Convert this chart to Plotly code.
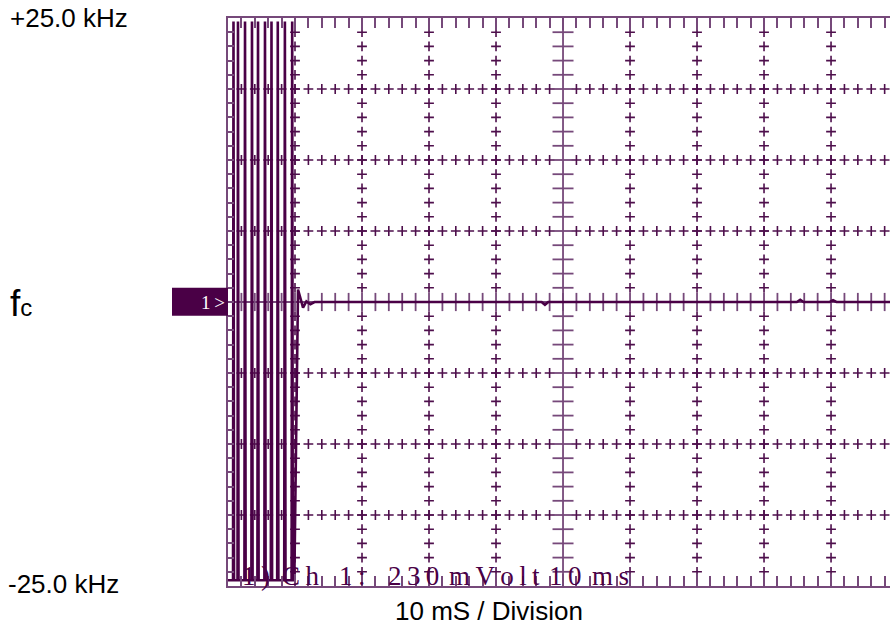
import numpy as np
import plotly.graph_objects as go

# ---- data (time in ms, frequency deviation in kHz) ----
burst_t = [0.0, 0.75, 0.82, 0.9, 1.42, 1.49, 1.57, 2.45, 2.54, 2.63, 3.49, 3.58, 3.67,
           4.39, 4.48, 4.57, 5.43, 5.52, 5.61, 6.39, 6.49, 6.58, 7.34, 7.43, 7.52,
           8.39, 8.49, 8.58, 9.49, 9.58, 9.67]
burst_f = [-24.5, -24.5, 24.7, -24.5, -24.5, 24.7, -24.5, -24.5, 24.7, -24.5, -24.5, 24.7, -24.5,
           -24.5, 24.7, -24.5, -24.5, 24.7, -24.5, -24.5, 24.7, -24.5, -24.5, 24.7, -24.5,
           -24.5, 24.7, -24.5, -24.5, 24.7, -24.5]
settle_t = [9.9, 10.45, 11.2, 11.7, 12.3, 12.9, 46.8, 47.3, 47.8, 84.9, 85.4, 85.9, 89.8, 90.3, 90.8, 98.8]
settle_f = [-24.5, 1.1, -0.5, 0.05, -0.2, 0.0, 0.0, -0.25, 0.0, 0.0, 0.2, 0.0, 0.0, 0.15, 0.0, 0.0]

x_range = [0, 98.8]
y_range = [-25, 25]
x_div = 10.0
y_div = 6.25
n_minor = 5

top_label = "+25.0 kHz"
mid_label = "<span style='font-size:37px'>f</span>c"
bot_label = "-25.0 kHz"
x_title = "10 mS / Division"
scope_words = ["1)", "Ch", "1:", "230", "mVolt", "10", "ms"]
scope_word_px = [240, 280, 337, 386, 447, 547, 590]

frame_c = "#76497a"
grid_c = "#4e0f4c"
trace_c = "#4a0046"

W, H = 890, 630
L, R, T, B = 228, 0, 18, 44
pw = W - L - R
ph = H - T - B

fig = go.Figure()

# grid crosses along horizontal division lines
gx = np.arange(x_div / n_minor, x_range[1] + 0.01, x_div / n_minor)
gy_lines = [k * y_div for k in (-3, -2, -1, 1, 2, 3)]
cx, cy = [], []
for yv in gy_lines:
    for xv in gx:
        if abs(xv - 50) > 1e-6:
            cx.append(xv); cy.append(yv)
# grid crosses along vertical division lines
gyv = np.arange(-25 + y_div / n_minor, 25 - 0.01, y_div / n_minor)
for xv in np.arange(x_div, x_range[1], x_div):
    if abs(xv - 50) < 1e-6:
        continue
    for yv in gyv:
        if abs(yv) > 1e-6:
            cx.append(xv); cy.append(yv)
fig.add_trace(go.Scatter(x=cx, y=cy, mode="markers", hoverinfo="skip",
                         marker=dict(symbol="cross-thin", size=7, line=dict(color=grid_c, width=1.6))))

# center axis ticks
ctx = [v for v in gx]
fig.add_trace(go.Scatter(x=ctx, y=[0] * len(ctx), mode="markers", hoverinfo="skip",
                         marker=dict(symbol="line-ns", size=13, line=dict(color=frame_c, width=1.8))))
cty = [v for v in gyv if abs(v) > 1e-6]
fig.add_trace(go.Scatter(x=[50] * len(cty), y=cty, mode="markers", hoverinfo="skip",
                         marker=dict(symbol="line-ew", size=15, line=dict(color=frame_c, width=1.8))))

# signal trace
fig.add_trace(go.Scatter(x=burst_t + settle_t, y=burst_f + settle_f, mode="lines",
                         line=dict(color=trace_c, width=2.6), hoverinfo="skip"))

shapes = [
    dict(type="line", xref="x", yref="y", x0=50, x1=50, y0=-25, y1=25,
         line=dict(color=frame_c, width=1.8), layer="below"),
    dict(type="line", xref="x", yref="y", x0=0, x1=x_range[1], y0=0, y1=0,
         line=dict(color=frame_c, width=1.8), layer="below"),
    dict(type="rect", xref="paper", yref="y", x0=(172 - L) / pw, x1=0, y0=-1.2, y1=1.25,
         fillcolor=trace_c, line=dict(width=0)),
]

def px_x(p):
    return (p - L) / pw

def px_y(p):
    return (T + ph - p) / ph

sans = dict(family="Liberation Sans, Arial", size=26, color="black")
annotations = [
    dict(text=top_label, xref="paper", yref="paper", x=px_x(8), y=px_y(18), xanchor="left",
         yanchor="middle", showarrow=False, font=sans),
    dict(text=mid_label, xref="paper", yref="paper", x=px_x(8), y=px_y(303), xanchor="left",
         yanchor="middle", showarrow=False, font=dict(family="Liberation Sans, Arial", size=24, color="black")),
    dict(text=bot_label, xref="paper", yref="paper", x=px_x(6), y=px_y(584), xanchor="left",
         yanchor="middle", showarrow=False, font=sans),
    dict(text=x_title, xref="paper", yref="paper", x=px_x(489), y=px_y(611), xanchor="center",
         yanchor="middle", showarrow=False, font=sans),
    dict(text="1\u2009>", xref="paper", yref="y", x=0, y=0, xanchor="right", xshift=-1,
         yanchor="middle", showarrow=False,
         font=dict(family="Liberation Serif, Times New Roman", size=19, color="white")),
]
for w, p in zip(scope_words, scope_word_px):
    annotations.append(dict(text="\u2009".join(list(w)), xref="paper", yref="paper", x=px_x(p), y=px_y(576),
                            xanchor="left", yanchor="middle", showarrow=False,
                            font=dict(family="Liberation Serif, Times New Roman", size=27, color=trace_c)))

fig.update_layout(
    width=W, height=H,
    margin=dict(l=L, r=R, t=T, b=B, pad=0),
    paper_bgcolor="white", plot_bgcolor="white",
    showlegend=False,
    shapes=shapes, annotations=annotations,
    xaxis=dict(range=x_range, showgrid=False, zeroline=False, showticklabels=False,
               showline=True, linecolor=frame_c, linewidth=2, mirror="allticks",
               ticks="inside", tick0=0, dtick=x_div, ticklen=12, tickwidth=2, tickcolor=frame_c,
               minor=dict(ticks="inside", dtick=x_div / n_minor, ticklen=10, tickwidth=2, tickcolor=frame_c,
                          showgrid=False)),
    yaxis=dict(range=y_range, showgrid=False, zeroline=False, showticklabels=False,
               showline=True, linecolor=frame_c, linewidth=2, mirror=False,
               ticks="inside", tick0=-25, dtick=y_div, ticklen=6, tickwidth=2, tickcolor=frame_c,
               minor=dict(ticks="inside", dtick=y_div / n_minor, ticklen=6, tickwidth=2, tickcolor=frame_c,
                          showgrid=False)),
)

fig.write_html("out.html", config={"displayModeBar": False},
               post_script="document.body.style.margin='0';document.body.style.overflow='hidden';")
